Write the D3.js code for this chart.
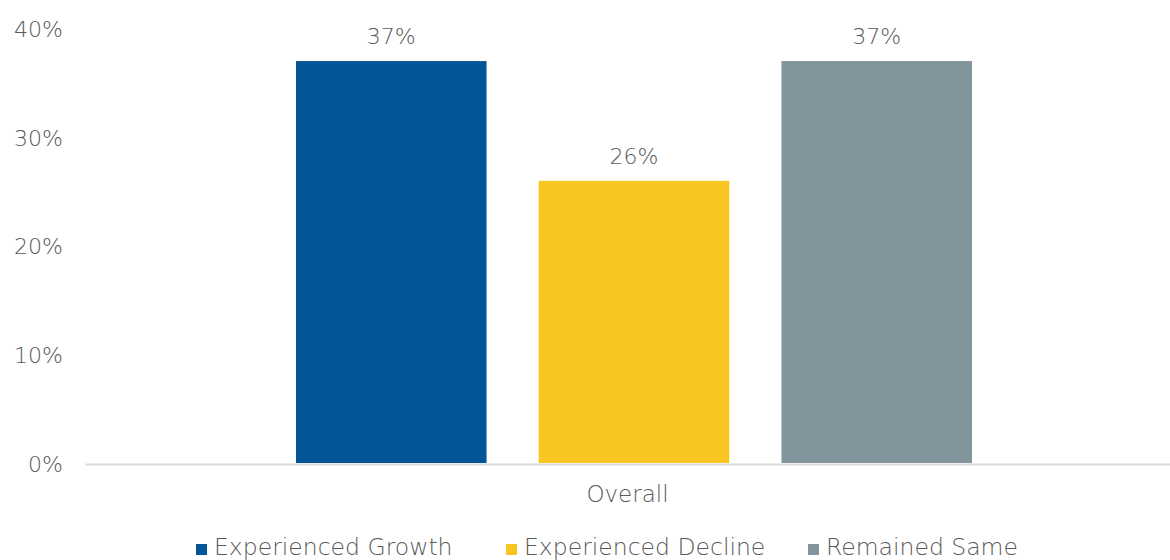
<!DOCTYPE html>
<html><head><meta charset="utf-8">
<script src="https://cdn.jsdelivr.net/npm/d3@7"></script>
<style>
html,body{margin:0;padding:0;background:#fff;}
svg text{font-family:"DejaVu Sans ExtraLight","DejaVu Sans",sans-serif;font-weight:200;fill:#595959;}
</style></head><body>
<svg id="chart" width="1170" height="560"></svg>
<script>
const categories = ["Overall"];
const seriesNames = ["Experienced Growth", "Experienced Decline", "Remained Same"];
const seriesValues = [37, 26, 37];
const seriesColors = ["#025596", "#F9C520", "#82959D"];
const yTicks = [0, 10, 20, 30, 40];

(function(){
const svg = d3.select("#chart");
const mLeft = 85, mRight = 1170, mTop = 28.4, mBottom = 464;

const x0 = d3.scaleBand().domain(categories).range([mLeft, mRight]).paddingInner(0).paddingOuter(0);
const x1 = d3.scaleBand().domain(seriesNames).range([296 - mLeft, 972 - mLeft]).paddingInner(0.215).paddingOuter(0);
const y = d3.scaleLinear().domain([0, 40]).range([mBottom, mTop]);

const yAxis = d3.axisLeft(y).tickValues(yTicks).tickFormat(d => d + "%").tickSize(0).tickPadding(0);
const ya = svg.append("g").attr("transform", "translate(63,0)").call(yAxis);
ya.select(".domain").remove();
ya.selectAll("text").style("font-size", "22px").attr("dy", "0.35em");

const xAxis = d3.axisBottom(x0).tickSize(0).tickPadding(24);
const xa = svg.append("g").attr("transform", `translate(0,${mBottom})`).call(xAxis);
xa.select(".domain").attr("stroke", "#d9d9d9").attr("stroke-width", 2);
xa.selectAll("text").style("font-size", "23px").attr("dy", "0.62em");

const g = svg.append("g").attr("transform", `translate(${mLeft},0)`);
g.selectAll("rect").data(seriesValues).join("rect")
  .attr("x", (d, i) => x1(seriesNames[i]))
  .attr("y", d => y(d))
  .attr("width", x1.bandwidth())
  .attr("height", d => mBottom - 1 - y(d))
  .attr("fill", (d, i) => seriesColors[i]);

g.selectAll("text.lbl").data(seriesValues).join("text")
  .attr("class", "lbl")
  .attr("x", (d, i) => x1(seriesNames[i]) + x1.bandwidth() / 2)
  .attr("y", d => y(d) - 17)
  .attr("text-anchor", "middle")
  .style("font-size", "22px")
  .text(d => d + "%");

const legendX = [196, 506, 808];
const lg = svg.append("g");
seriesNames.forEach((n, i) => {
  lg.append("rect").attr("x", legendX[i]).attr("y", 544).attr("width", 11).attr("height", 11).attr("fill", seriesColors[i]);
  lg.append("text").attr("x", legendX[i] + 18).attr("y", 555).style("font-size", "23.5px").text(n);
});
})();
</script>
</body></html>
